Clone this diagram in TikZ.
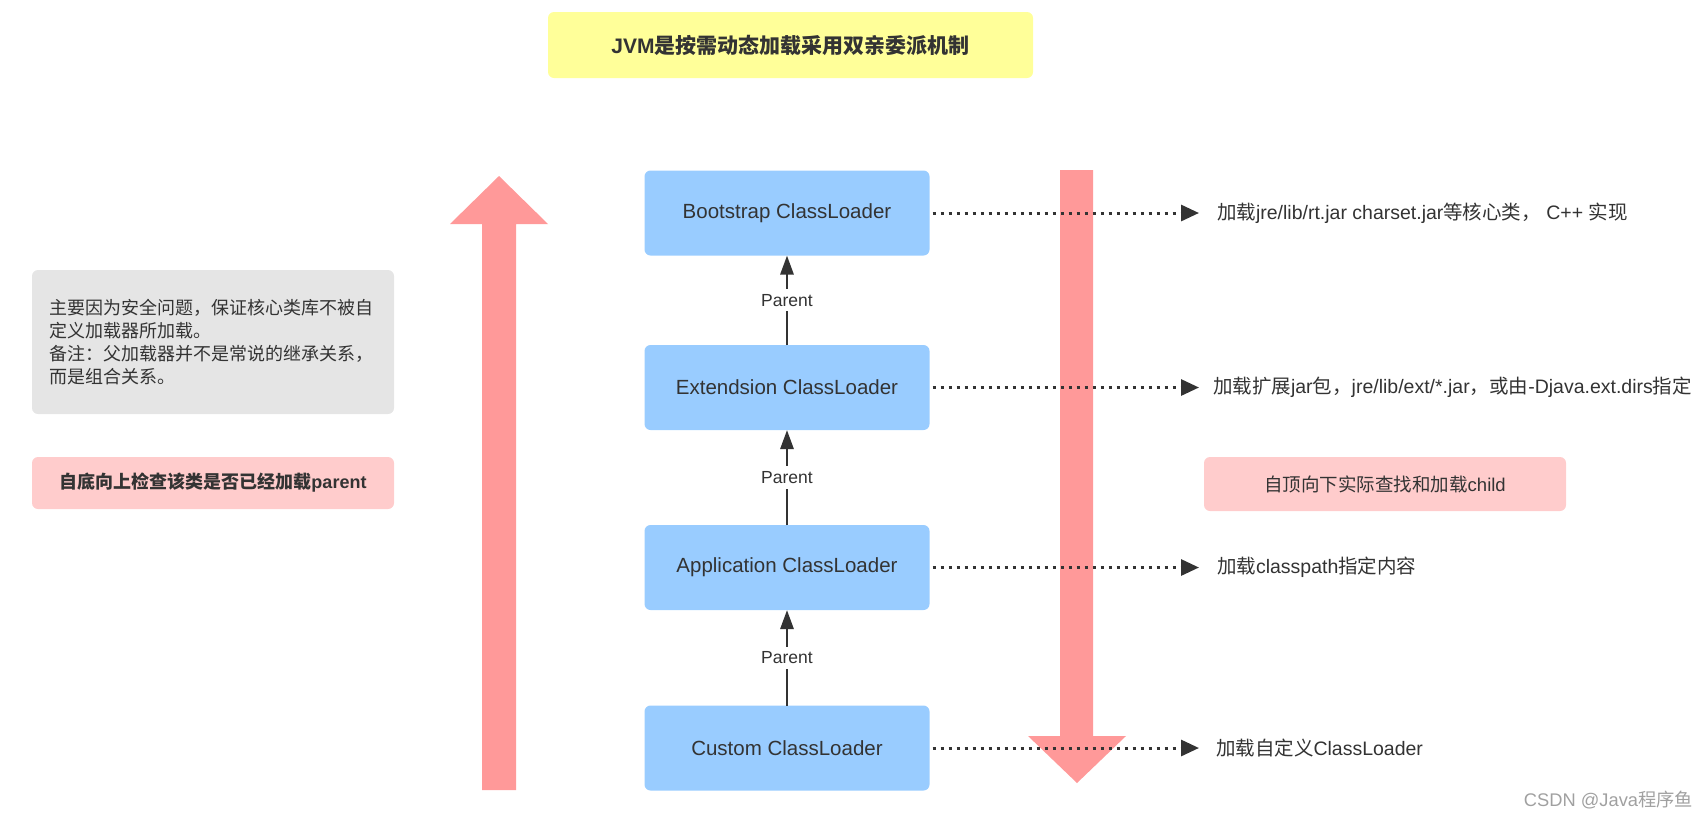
\documentclass[tikz,border=0pt]{standalone}
\usepackage{fontspec}
\setmainfont{Liberation Sans}
\newfontfamily\cjk{Noto Sans CJK SC}
\newcommand\zh[1]{{\cjk #1}}
\usetikzlibrary{arrows.meta}
\definecolor{txt}{HTML}{333333}
\definecolor{titlefill}{HTML}{FFFF99}
\definecolor{greyfill}{HTML}{E5E5E5}
\definecolor{pinkfill}{HTML}{FFCCCC}
\definecolor{bluefill}{HTML}{99CCFF}
\definecolor{bigarrow}{HTML}{FF9999}
\definecolor{wmark}{HTML}{A0A0A0}
\begin{document}
\begin{tikzpicture}[x=1pt,y=-1pt,
  every node/.style={text=txt, inner sep=0pt, outer sep=0pt},
  loader/.style={fill=bluefill, rounded corners=6pt, minimum width=285pt, minimum height=85pt, font=\fontsize{20.5}{24}\selectfont},
  notebox/.style={rounded corners=6pt, minimum width=362pt},
  rtext/.style={anchor=west, font=\fontsize{19.5}{23}\selectfont},
  parentarrow/.style={draw=txt, line width=2.8pt, -{Triangle[length=19pt,width=13pt]}},
  dotarrow/.style={draw=txt, line width=3pt, dash pattern=on 3pt off 5pt, -{Triangle[length=18pt,width=16pt]}},
  plabel/.style={fill=white, inner xsep=3pt, inner ysep=5pt, font=\fontsize{17.5}{20}\selectfont}
]
\useasboundingbox (0,0) rectangle (1708,820);

% big arrows
\fill[bigarrow] (482,790) -- (482,224) -- (450,224) -- (499,176) -- (548,224) -- (516,224) -- (516,790) -- cycle;
\fill[bigarrow] (1060,170) -- (1093,170) -- (1093,736) -- (1126,736) -- (1077,783) -- (1028,736) -- (1060,736) -- cycle;

% title
\node[fill=titlefill, rounded corners=6pt, minimum width=485pt, minimum height=66pt, font=\fontsize{21}{25}\selectfont\bfseries] (title) at (790.5,45) {JVM\zh{是按需动态加载采用双亲委派机制}};

% notes
\node[notebox, fill=greyfill, minimum height=144pt, text width=328pt, align=left, font=\fontsize{18}{23}\selectfont\cjk] (note) at (213,342)
  {主要因为安全问题，保证核心类库不被自\\定义加载器所加载。\\备注：父加载器并不是常说的继承关系，\\而是组合关系。};
\node[notebox, fill=pinkfill, minimum height=52pt, font=\fontsize{18}{22}\selectfont\bfseries] (up) at (213,483) {\zh{自底向上检查该类是否已经加载}parent};
\node[notebox, fill=pinkfill, minimum height=54pt, font=\fontsize{18.5}{22}\selectfont] (down) at (1385,484) {\zh{自顶向下实际查找和加载}child};

% loaders
\node[loader] (boot) at (787,213) {Bootstrap ClassLoader};
\node[loader] (ext) at (787,387.5) {Extendsion ClassLoader};
\node[loader] (app) at (787,567.5) {Application ClassLoader};
\node[loader] (cust) at (787,748) {Custom ClassLoader};

% parent arrows
\draw[parentarrow] (ext.north) -- node[plabel] {Parent} (boot.south);
\draw[parentarrow] (app.north) -- node[plabel] {Parent} (ext.south);
\draw[parentarrow] (cust.north) -- node[plabel] {Parent} (app.south);

% descriptions
\node[rtext] (dboot) at (1217,213) {\zh{加载}jre/lib/rt.jar charset.jar\zh{等核心类，} C++ \zh{实现}};
\node[rtext] (dext) at (1213,387.5) {\zh{加载扩展}jar\zh{包，}jre/lib/ext/*.jar\zh{，或由}-Djava.ext.dirs\zh{指定}};
\node[rtext] (dapp) at (1217,567.5) {\zh{加载}classpath\zh{指定内容}};
\node[rtext] (dcust) at (1216,748) {\zh{加载自定义}ClassLoader};

\coordinate (eboot) at (1199,213);
\coordinate (eext) at (1199,387.5);
\coordinate (eapp) at (1199,567.5);
\coordinate (ecust) at (1199,748);
\draw[dotarrow] ([xshift=3pt]boot.east) -- (eboot);
\draw[dotarrow] ([xshift=3pt]ext.east) -- (eext);
\draw[dotarrow] ([xshift=3pt]app.east) -- (eapp);
\draw[dotarrow] ([xshift=3pt]cust.east) -- (ecust);

% watermark
\node[anchor=east, text=wmark, font=\fontsize{18.3}{21}\selectfont] (wm) at (1693,800) {CSDN @Java\zh{程序鱼}};
\end{tikzpicture}
\end{document}
